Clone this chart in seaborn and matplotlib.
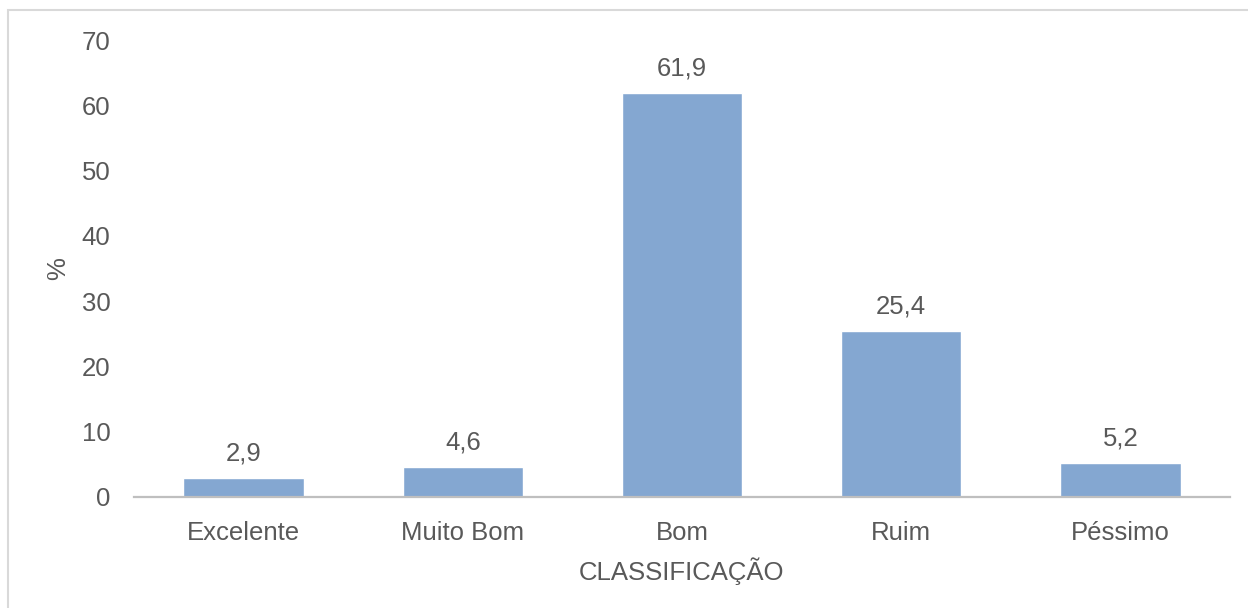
import matplotlib
matplotlib.use("Agg")
import matplotlib.pyplot as plt
import seaborn as sns
import pandas as pd
from matplotlib.patches import Rectangle

categories = ["Excelente", "Muito Bom", "Bom", "Ruim", "Péssimo"]
values = [2.9, 4.6, 61.9, 25.4, 5.2]
value_labels = ["2,9", "4,6", "61,9", "25,4", "5,2"]
y_ticks = [0, 10, 20, 30, 40, 50, 60, 70]

sns.set_theme(style="white")
plt.rcParams["font.family"] = ["Liberation Sans", "DejaVu Sans"]

text_color = "#595959"
bar_color = "#84A7D1"
fs = 18.5

df = pd.DataFrame({"categoria": categories, "valor": values})

fig = plt.figure(figsize=(12.48, 6.08), dpi=100)
ax = fig.add_axes([134 / 1248, 1 - 497 / 608, (1230 - 134) / 1248, (497 - 40) / 608])

sns.barplot(data=df, x="categoria", y="valor", color=bar_color, width=0.55,
            saturation=1, ax=ax)

ax.set_ylim(0, 70)
ax.set_yticks(y_ticks)
ax.set_xlim(-0.5, len(categories) - 0.5)
ax.tick_params(axis="both", labelsize=fs, colors=text_color, length=0)
ax.tick_params(axis="y", pad=17)
ax.tick_params(axis="x", pad=17)

for s in ["top", "right", "left"]:
    ax.spines[s].set_visible(False)
ax.spines["bottom"].set_color("#BFBFBF")
ax.spines["bottom"].set_linewidth(1.6)

for i, (v, lab) in enumerate(zip(values, value_labels)):
    ax.annotate(lab, (i, v), xytext=(0, 9), textcoords="offset points",
                ha="center", va="bottom", fontsize=fs, color=text_color)

ax.set_xlabel("CLASSIFICAÇÃO", fontsize=fs, color=text_color, labelpad=9)
ax.set_ylabel("%", fontsize=fs, color=text_color, labelpad=8)

# Light chart-area frame around the figure
frame = Rectangle((8 / 1248, -0.1), 1.2, 1 - 10 / 608 + 0.1,
                  transform=fig.transFigure, fill=False,
                  edgecolor="#D9D9D9", linewidth=1.5)
fig.patches.append(frame)

fig.savefig("out.png", dpi=100)
